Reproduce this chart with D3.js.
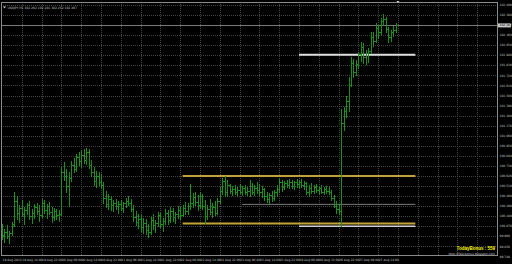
<!DOCTYPE html>
<html>
<head>
<meta charset="utf-8">
<style>
  body { margin: 0; background: #000; }
  svg { display: block; }
</style>
</head>
<body>
<svg width="512" height="264"></svg>
<script src="https://d3js.org/d3.v7.min.js"></script>
<script>
    // H1 bars
    var opens = [100.05, 99.97, 100.01, 99.96, 100.00, 100.09, 100.35, 100.22, 100.27, 100.20,
        100.25, 100.30, 100.18, 100.22, 100.28, 100.24, 100.19, 100.33, 100.25, 100.29,
        100.23, 100.17, 100.24, 100.19, 100.21, 100.66, 100.62, 100.51, 100.60, 100.74,
        100.70, 100.83, 100.78, 100.85, 100.80, 100.88, 100.74, 100.66, 100.57, 100.62,
        100.55, 100.52, 100.38, 100.31, 100.37, 100.30, 100.33, 100.29, 100.31, 100.27,
        100.32, 100.35, 100.33, 100.26, 100.17, 100.12, 100.15, 100.06, 100.11, 100.03,
        100.01, 100.14, 100.08, 100.11, 100.19, 100.10, 100.13, 100.22, 100.14, 100.24,
        100.17, 100.20, 100.25, 100.19, 100.27, 100.24, 100.29, 100.33, 100.39, 100.34,
        100.30, 100.40, 100.29, 100.18, 100.26, 100.23, 100.28, 100.22, 100.35, 100.46,
        100.57, 100.44, 100.52, 100.46, 100.48, 100.44, 100.47, 100.45, 100.49, 100.44,
        100.46, 100.51, 100.45, 100.49, 100.47, 100.44, 100.48, 100.40, 100.37, 100.41,
        100.38, 100.44, 100.48, 100.55, 100.50, 100.54, 100.52, 100.56, 100.51, 100.55,
        100.53, 100.56, 100.52, 100.54, 100.45, 100.49, 100.46, 100.50, 100.47, 100.49,
        100.45, 100.48, 100.46, 100.44, 100.38, 100.31, 100.26, 100.24, 101.20, 101.33,
        101.44, 101.62, 101.86, 101.76, 101.84, 101.95, 102.03, 101.92, 101.96, 101.99,
        102.14, 102.10, 102.24, 102.19, 102.31, 102.34, 102.23, 102.14, 102.19, 102.22];

    var highs = [100.10, 100.04, 100.08, 100.02, 100.12, 100.44, 100.40, 100.30, 100.36, 100.28,
        100.33, 100.35, 100.26, 100.31, 100.32, 100.30, 100.37, 100.36, 100.31, 100.34,
        100.28, 100.27, 100.26, 100.25, 100.72, 100.77, 100.70, 100.66, 100.78, 100.82,
        100.86, 100.88, 100.90, 100.91, 100.93, 100.92, 100.80, 100.72, 100.68, 100.66,
        100.64, 100.55, 100.46, 100.42, 100.40, 100.36, 100.37, 100.35, 100.36, 100.34,
        100.38, 100.40, 100.37, 100.30, 100.24, 100.21, 100.19, 100.16, 100.15, 100.09,
        100.17, 100.20, 100.14, 100.23, 100.22, 100.16, 100.26, 100.25, 100.28, 100.27,
        100.23, 100.29, 100.28, 100.30, 100.34, 100.32, 100.53, 100.43, 100.45, 100.41,
        100.44, 100.42, 100.36, 100.30, 100.37, 100.33, 100.35, 100.38, 100.50, 100.60,
        100.62, 100.58, 100.53, 100.51, 100.52, 100.50, 100.53, 100.51, 100.52, 100.50,
        100.58, 100.54, 100.52, 100.55, 100.53, 100.51, 100.49, 100.45, 100.43, 100.46,
        100.47, 100.52, 100.60, 100.58, 100.57, 100.58, 100.59, 100.58, 100.57, 100.59,
        100.58, 100.59, 100.57, 100.56, 100.52, 100.54, 100.52, 100.53, 100.51, 100.52,
        100.50, 100.51, 100.50, 100.47, 100.41, 100.35, 100.30, 101.35, 101.38, 101.49,
        101.70, 101.92, 101.90, 101.89, 101.98, 102.09, 102.07, 102.00, 102.02, 102.20,
        102.19, 102.29, 102.27, 102.35, 102.39, 102.36, 102.25, 102.22, 102.26, 102.29];

    var lows = [99.93, 99.90, 99.94, 99.89, 99.97, 100.07, 100.15, 100.12, 100.18, 100.10,
        100.20, 100.15, 100.11, 100.16, 100.20, 100.13, 100.17, 100.22, 100.16, 100.21,
        100.12, 100.14, 100.15, 100.13, 100.19, 100.58, 100.45, 100.29, 100.57, 100.66,
        100.68, 100.74, 100.72, 100.76, 100.75, 100.71, 100.62, 100.52, 100.50, 100.52,
        100.49, 100.33, 100.28, 100.26, 100.25, 100.24, 100.26, 100.22, 100.25, 100.23,
        100.28, 100.30, 100.24, 100.13, 100.08, 100.05, 100.02, 100.00, 99.99, 99.95,
        99.99, 100.04, 100.01, 100.07, 100.06, 100.02, 100.09, 100.10, 100.12, 100.13,
        100.11, 100.16, 100.15, 100.18, 100.21, 100.20, 100.26, 100.28, 100.30, 100.25,
        100.27, 100.26, 100.11, 100.15, 100.20, 100.17, 100.19, 100.20, 100.33, 100.42,
        100.40, 100.40, 100.43, 100.41, 100.42, 100.40, 100.43, 100.41, 100.42, 100.41,
        100.40, 100.42, 100.41, 100.43, 100.40, 100.39, 100.36, 100.34, 100.31, 100.35,
        100.36, 100.40, 100.45, 100.46, 100.48, 100.50, 100.49, 100.49, 100.48, 100.50,
        100.49, 100.50, 100.48, 100.42, 100.40, 100.43, 100.43, 100.44, 100.42, 100.43,
        100.42, 100.43, 100.42, 100.36, 100.28, 100.22, 100.20, 100.07, 101.12, 101.27,
        101.33, 101.60, 101.70, 101.72, 101.80, 101.88, 101.86, 101.84, 101.87, 101.97,
        102.04, 102.08, 102.13, 102.17, 102.27, 102.19, 102.09, 102.10, 102.15, 102.20];

    var closes = [99.97, 100.01, 99.96, 100.00, 100.09, 100.35, 100.22, 100.27, 100.20, 100.25,
        100.30, 100.18, 100.22, 100.28, 100.24, 100.19, 100.33, 100.25, 100.29, 100.23,
        100.17, 100.24, 100.19, 100.21, 100.66, 100.62, 100.51, 100.60, 100.74, 100.70,
        100.83, 100.78, 100.85, 100.80, 100.88, 100.74, 100.66, 100.57, 100.62, 100.55,
        100.52, 100.38, 100.31, 100.37, 100.30, 100.33, 100.29, 100.31, 100.27, 100.32,
        100.35, 100.33, 100.26, 100.17, 100.12, 100.15, 100.06, 100.11, 100.03, 100.01,
        100.14, 100.08, 100.11, 100.19, 100.10, 100.13, 100.22, 100.14, 100.24, 100.17,
        100.20, 100.25, 100.19, 100.27, 100.24, 100.29, 100.33, 100.39, 100.34, 100.30,
        100.40, 100.29, 100.18, 100.26, 100.23, 100.28, 100.22, 100.35, 100.46, 100.57,
        100.44, 100.52, 100.46, 100.48, 100.44, 100.47, 100.45, 100.49, 100.44, 100.46,
        100.51, 100.45, 100.49, 100.47, 100.44, 100.48, 100.40, 100.37, 100.41, 100.38,
        100.44, 100.48, 100.55, 100.50, 100.54, 100.52, 100.56, 100.51, 100.55, 100.53,
        100.56, 100.52, 100.54, 100.45, 100.49, 100.46, 100.50, 100.47, 100.49, 100.45,
        100.48, 100.46, 100.44, 100.38, 100.31, 100.26, 100.24, 101.20, 101.33, 101.44,
        101.62, 101.86, 101.76, 101.84, 101.95, 102.03, 101.92, 101.96, 101.99, 102.14,
        102.10, 102.24, 102.19, 102.31, 102.34, 102.23, 102.14, 102.19, 102.22, 102.27];

    var priceTicks = [102.49, 102.38, 102.27, 102.16, 102.05, 101.94, 101.83, 101.72, 101.61,
        101.50, 101.39, 101.28, 101.17, 101.06, 100.95, 100.84, 100.73, 100.62, 100.51,
        100.40, 100.29, 100.18, 100.07, 99.96, 99.85, 99.74];

    var timeLabels = ["19 Aug 2013", "19 Aug 14:00", "19 Aug 22:00", "20 Aug 06:00", "20 Aug 14:00",
        "20 Aug 22:00", "21 Aug 06:00", "21 Aug 14:00", "21 Aug 22:00", "22 Aug 06:00",
        "22 Aug 14:00", "22 Aug 22:00", "23 Aug 06:00", "23 Aug 14:00", "23 Aug 22:00",
        "26 Aug 06:00", "26 Aug 14:00", "26 Aug 22:00", "27 Aug 06:00", "27 Aug 14:00"];

    // horizontal levels drawn on the chart (price, first bar, last bar)
    var levelPrices = [100.62, 100.10, 100.31, 100.07, 101.945];
    var levelFrom = [73, 73, 97, 120, 120];
    var levelTo = [167, 167, 167, 167, 167];
    var levelColors = ["#c2a236", "#c2a236", "#7c7c7c", "#d0d0d0", "#dcdcdc"];
    var levelWidths = [2, 2, 1, 1.5, 2];

    var bid = 102.267;
    var title = "USDJPY,H1  102.262 102.281 102.252 102.267";

    var svg = d3.select("svg"),
        plotRight = 497,
        plotBottom = 255;

    svg.append("rect").attr("width", 512).attr("height", 264).attr("fill", "#000");

    var x = d3.scaleLinear().domain([0, 160]).range([2, 398]),
        y = d3.scaleLinear().domain([99.74, 102.49]).range([256.5, 5]);

    var grid = svg.append("g")
        .attr("stroke", "#444")
        .attr("stroke-dasharray", "1,1")
        .attr("shape-rendering", "crispEdges");

    // horizontal grid at every price label
    grid.selectAll(".hg")
        .data(priceTicks.slice(0, -1))
        .enter().append("line")
        .attr("x1", 1).attr("x2", plotRight)
        .attr("y1", function (d) { return Math.round(y(d)) + 0.5; })
        .attr("y2", function (d) { return Math.round(y(d)) + 0.5; });

    // vertical grid every 8 bars, running on past the last bar
    grid.selectAll(".vg")
        .data(d3.range(8, 200, 8))
        .enter().append("line")
        .attr("y1", 2).attr("y2", plotBottom)
        .attr("x1", function (d) { return Math.round(x(d)) + 0.5; })
        .attr("x2", function (d) { return Math.round(x(d)) + 0.5; });

    // frame
    svg.append("path")
        .attr("d", "M1.5," + plotBottom + "V2.5H" + plotRight + ".5V" + plotBottom + ".5H1.5Z")
        .attr("fill", "none")
        .attr("stroke", "#8a8a8a")
        .attr("stroke-width", 1)
        .attr("shape-rendering", "crispEdges");

    // bid line
    svg.append("line")
        .attr("x1", 2).attr("x2", plotRight)
        .attr("y1", Math.round(y(bid)) + 0.5).attr("y2", Math.round(y(bid)) + 0.5)
        .attr("stroke", "#7a7a7a")
        .attr("shape-rendering", "crispEdges");

    // levels
    svg.selectAll(".level")
        .data(levelPrices)
        .enter().append("line")
        .attr("class", "level")
        .attr("x1", function (d, i) { return x(levelFrom[i]); })
        .attr("x2", function (d, i) { return x(levelTo[i]); })
        .attr("y1", function (d) { return y(d); })
        .attr("y2", function (d) { return y(d); })
        .attr("stroke", function (d, i) { return levelColors[i]; })
        .attr("stroke-width", function (d, i) { return levelWidths[i]; });

    // OHLC bars
    var bars = svg.append("g")
        .attr("stroke", "#1d8f1d")
        .attr("stroke-width", 1)
        .attr("shape-rendering", "crispEdges");

    var bar = bars.selectAll(".bar")
        .data(opens)
        .enter().append("g")
        .attr("class", "bar");

    bar.append("line")
        .attr("x1", function (d, i) { return Math.round(x(i)) + 0.5; })
        .attr("x2", function (d, i) { return Math.round(x(i)) + 0.5; })
        .attr("y1", function (d, i) { return y(highs[i]); })
        .attr("y2", function (d, i) { return y(lows[i]) + 1; });

    bar.append("line")
        .attr("x1", function (d, i) { return Math.round(x(i)) - 1; })
        .attr("x2", function (d, i) { return Math.round(x(i)); })
        .attr("y1", function (d) { return Math.round(y(d)) + 0.5; })
        .attr("y2", function (d) { return Math.round(y(d)) + 0.5; });

    bar.append("line")
        .attr("x1", function (d, i) { return Math.round(x(i)) + 1; })
        .attr("x2", function (d, i) { return Math.round(x(i)) + 2; })
        .attr("y1", function (d, i) { return Math.round(y(closes[i])) + 0.5; })
        .attr("y2", function (d, i) { return Math.round(y(closes[i])) + 0.5; });

    // price scale labels
    svg.selectAll(".pl")
        .data(priceTicks)
        .enter().append("text")
        .attr("x", 499.5)
        .attr("y", function (d) { return y(d) + 1.1; })
        .attr("fill", "#c8c8c8")
        .style("font", "3px 'DejaVu Sans'")
        .text(function (d) { return d.toFixed(3); });

    svg.append("rect")
        .attr("x", 498).attr("y", y(bid) - 2)
        .attr("width", 13).attr("height", 4)
        .attr("fill", "#c8c8c8");

    svg.append("text")
        .attr("x", 499.5).attr("y", y(bid) + 1.1)
        .attr("fill", "#000")
        .style("font", "3px 'DejaVu Sans'")
        .text(bid.toFixed(3));

    // time labels every 8 bars
    svg.selectAll(".tl")
        .data(timeLabels)
        .enter().append("text")
        .attr("x", function (d, i) { return x(i * 8) + 0.5; })
        .attr("y", 260.5)
        .attr("fill", "#c8c8c8")
        .style("font", "3px 'DejaVu Sans'")
        .text(function (d) { return d; });

    // chart shift marker
    svg.append("path")
        .attr("d", "M" + (x(160) - 1.5) + ",1H" + (x(160) + 1.5) + "L" + x(160) + ",3Z")
        .attr("fill", "#d0d0d0");

    // title
    svg.append("path")
        .attr("d", "M3,6.5H6L4.5,8.5Z")
        .attr("fill", "#c8c8c8");
    svg.append("text")
        .attr("x", 7.5).attr("y", 9)
        .attr("fill", "#c8c8c8")
        .style("font", "3px 'DejaVu Sans'")
        .text(title);

    // bonus watermark
    svg.append("text")
        .attr("x", 495).attr("y", 250)
        .attr("text-anchor", "end")
        .attr("fill", "#ffff00")
        .style("font", "bold 4.5px 'Liberation Sans'")
        .text("TodayBonus : 559");

    svg.append("text")
        .attr("x", 495).attr("y", 255)
        .attr("text-anchor", "end")
        .attr("fill", "#d0d0d0")
        .style("font", "3px 'DejaVu Sans'")
        .text("http://free-bonus.blogspot.com");
</script>
</body>
</html>
